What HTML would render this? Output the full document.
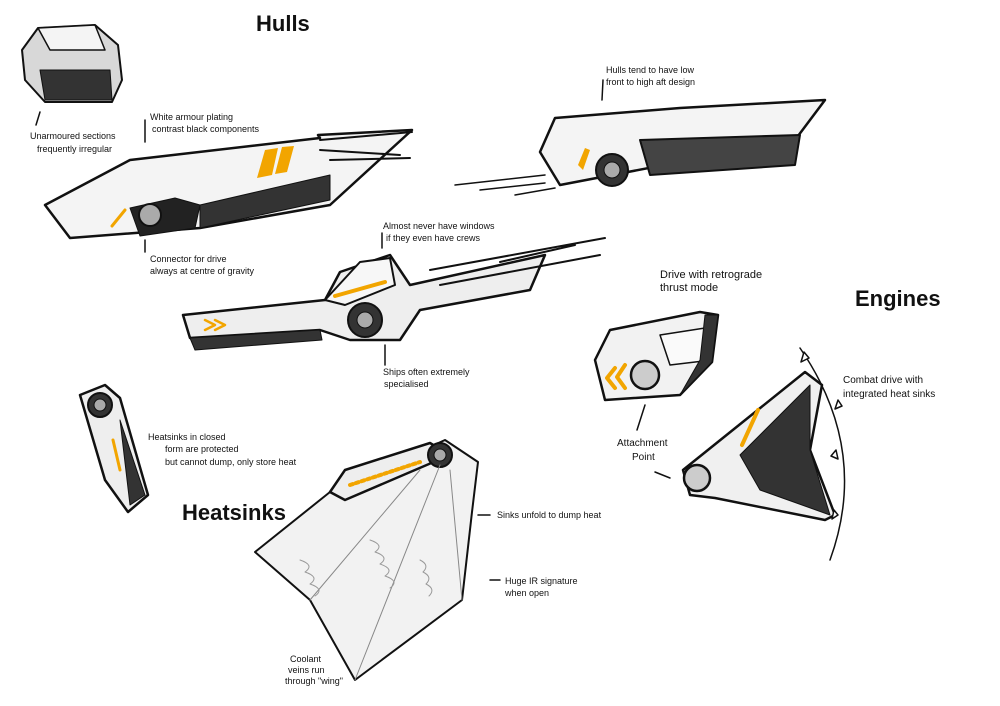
<!DOCTYPE html>
<html><head><meta charset="utf-8"><style>
html,body{margin:0;padding:0;background:#fff;width:1000px;height:706px;overflow:hidden}
svg{display:block}
text{font-family:"Liberation Sans",sans-serif;fill:#111}
.s{font-size:9px}
.h{font-size:22px;font-weight:bold}
</style></head><body>
<svg width="1000" height="706" viewBox="0 0 1000 706" xmlns="http://www.w3.org/2000/svg">
<g stroke="#111" stroke-linecap="round" stroke-linejoin="round">
<!-- top-left icon -->
<path d="M38,28 L95,25 L118,45 L122,80 L112,102 L45,102 L25,80 L22,50Z" fill="#d8d8d8" stroke-width="2"/>
<path d="M38,28 L50,50 L105,50 L95,25Z" fill="#f4f4f4" stroke-width="1.5"/>
<path d="M40,70 L110,70 L112,100 L45,100Z" fill="#333"/>
<line x1="40" y1="112" x2="36" y2="125" stroke-width="1.5"/>
<!-- Hull 1 -->
<path d="M45,205 L130,160 L320,138 L318,135 L412,130 L330,205 L200,228 L70,238Z" fill="#f4f4f4" stroke-width="2.5"/>
<path d="M130,208 L175,198 L200,205 L195,228 L140,236Z" fill="#222"/>
<circle cx="150" cy="215" r="11" fill="#aaa" stroke-width="2"/>
<path d="M200,205 L330,175 L330,200 L200,228Z" fill="#333"/>
<path d="M265,150 L278,148 L272,175 L257,178Z M282,147 L294,146 L287,172 L275,174Z" fill="#f2a500" stroke="none"/>
<path d="M112,226 L125,210" stroke="#f2a500" stroke-width="3"/>
<path d="M320,140 L412,132 M320,150 L400,155 M330,160 L410,158" stroke-width="2" fill="none"/>
<line x1="145" y1="240" x2="145" y2="252" stroke-width="1.5"/>
<line x1="145" y1="120" x2="145" y2="142" stroke-width="1.5"/>
<!-- Hull 2 -->
<path d="M540,152 L555,118 L680,108 L825,100 L795,140 L560,185Z" fill="#f4f4f4" stroke-width="2.5"/>
<path d="M640,140 L800,135 L795,165 L650,175Z" fill="#444" stroke-width="2"/>
<circle cx="612" cy="170" r="16" fill="#333" stroke-width="2"/>
<circle cx="612" cy="170" r="8" fill="#aaa"/>
<path d="M578,165 L585,148 L590,150 L583,170Z" fill="#f2a500" stroke="none"/>
<path d="M455,185 L545,175 M480,190 L545,183 M515,195 L555,188" stroke-width="1.5"/>
<line x1="603" y1="80" x2="602" y2="100" stroke-width="1.5"/>
<!-- Hull 3 -->
<path d="M183,315 L325,300 L340,272 L390,255 L410,285 L545,255 L530,290 L420,310 L400,340 L350,340 L320,330 L190,338Z" fill="#eee" stroke-width="2.5"/>
<path d="M325,300 L360,262 L390,258 L395,285 L345,305Z" fill="#f7f7f7" stroke-width="2"/>
<path d="M335,296 L385,282" stroke="#f2a500" stroke-width="4"/>
<circle cx="365" cy="320" r="17" fill="#333" stroke-width="2"/>
<circle cx="365" cy="320" r="8" fill="#aaa"/>
<path d="M190,338 L320,330 L322,340 L195,350Z" fill="#333"/>
<path d="M205,320 L215,325 L205,330 M215,320 L225,325 L215,330" stroke="#f2a500" stroke-width="2.5" fill="none"/>
<path d="M430,270 L605,238 M440,285 L600,255 M500,262 L575,245" stroke-width="2" fill="none"/>
<line x1="382" y1="233" x2="382" y2="248" stroke-width="1.5"/>
<line x1="385" y1="345" x2="385" y2="365" stroke-width="1.5"/>
<!-- closed heatsink -->
<path d="M80,395 L105,385 L120,398 L148,495 L128,512 L105,480 Z" fill="#eee" stroke-width="2.5"/>
<circle cx="100" cy="405" r="12" fill="#333" stroke-width="2"/>
<circle cx="100" cy="405" r="6" fill="#aaa"/>
<path d="M120,420 L145,495 L130,505Z" fill="#333"/>
<path d="M113,440 L120,470" stroke="#f2a500" stroke-width="3"/>
<!-- open heatsink -->
<path d="M255,552 L330,492 L445,440 L478,462 L472,512 L462,600 L355,680 L310,600Z" fill="#f2f2f2" stroke-width="2"/>
<path d="M330,492 L345,470 L430,443 L450,455 L345,500Z" fill="#eee" stroke-width="2.5"/>
<path d="M350,485 L420,462" stroke="#f2a500" stroke-width="4" stroke-dasharray="3 3"/>
<circle cx="440" cy="455" r="12" fill="#333" stroke-width="2"/>
<circle cx="440" cy="455" r="6" fill="#aaa"/>
<path d="M355,680 L440,465 M310,600 L420,470 M462,600 L450,470" stroke="#888" stroke-width="1" fill="none"/>
<path d="M300,560 q15,5 5,12 q15,5 5,12 q15,5 5,12 M370,540 q15,5 5,12 q15,5 5,12 q15,5 5,12 q15,5 5,12 M420,560 q10,5 3,12 q10,5 3,12 q10,5 3,12" stroke="#999" stroke-width="1" fill="none"/>
<line x1="478" y1="515" x2="490" y2="515" stroke-width="1.5"/>
<line x1="490" y1="580" x2="500" y2="580" stroke-width="1.5"/>
<!-- drive -->
<path d="M595,360 L610,330 L700,312 L718,315 L712,362 L680,395 L605,400Z" fill="#f2f2f2" stroke-width="2.5"/>
<path d="M660,335 L705,328 L712,360 L670,365Z" fill="#fafafa" stroke-width="1.5"/>
<circle cx="645" cy="375" r="14" fill="#ccc" stroke-width="2.5"/>
<path d="M615,368 L607,378 L615,388 M625,365 L617,377 L625,388" stroke="#f2a500" stroke-width="4" fill="none"/>
<path d="M680,395 L712,362 L718,315 L705,315 L700,360Z" fill="#333"/>
<line x1="645" y1="405" x2="637" y2="430" stroke-width="1.5"/>
<line x1="655" y1="472" x2="670" y2="478" stroke-width="1.5"/>
<!-- combat drive -->
<path d="M683,470 L805,372 L822,385 L810,450 L835,515 L825,520 L715,498 L690,495Z" fill="#f0f0f0" stroke-width="2.5"/>
<path d="M740,455 L810,385 L810,450 L830,515 L760,490Z" fill="#333"/>
<circle cx="697" cy="478" r="13" fill="#ccc" stroke-width="2.5"/>
<path d="M742,445 L758,410" stroke="#f2a500" stroke-width="4"/>
<path d="M800,348 Q870,450 830,560" fill="none" stroke-width="1.5"/>
<path d="M804,352 l-3,10 l8,-4Z M838,400 l-3,9 l7,-3Z M836,450 l2,9 l-7,-3Z M834,510 l-2,9 l6,-4Z" fill="#fff" stroke-width="1.5"/>
</g>
<text class="h" x="256" y="31">Hulls</text>
<text class="h" x="855" y="306">Engines</text>
<text class="h" x="182" y="520">Heatsinks</text>
<text class="s" x="30" y="139">Unarmoured sections</text>
<text class="s" x="37" y="152">frequently irregular</text>
<text class="s" x="150" y="120">White armour plating</text>
<text class="s" x="152" y="132">contrast black components</text>
<text class="s" x="150" y="262">Connector for drive</text>
<text class="s" x="150" y="274">always at centre of gravity</text>
<text class="s" x="606" y="73">Hulls tend to have low</text>
<text class="s" x="606" y="85">front to high aft design</text>
<text class="s" x="383" y="229">Almost never have windows</text>
<text class="s" x="386" y="241">if they even have crews</text>
<text class="s" x="383" y="375">Ships often extremely</text>
<text class="s" x="384" y="387">specialised</text>
<text class="s" x="660" y="278" style="font-size:11px">Drive with retrograde</text>
<text class="s" x="660" y="291" style="font-size:11px">thrust mode</text>
<text class="s" x="843" y="383" style="font-size:10px">Combat drive with</text>
<text class="s" x="843" y="397" style="font-size:10px">integrated heat sinks</text>
<text class="s" x="617" y="446" style="font-size:10px">Attachment</text>
<text class="s" x="632" y="460" style="font-size:10px">Point</text>
<text class="s" x="148" y="440">Heatsinks in closed</text>
<text class="s" x="165" y="452">form are protected</text>
<text class="s" x="165" y="465">but cannot dump, only store heat</text>
<text class="s" x="497" y="518">Sinks unfold to dump heat</text>
<text class="s" x="505" y="584">Huge IR signature</text>
<text class="s" x="505" y="596">when open</text>
<text class="s" x="290" y="662">Coolant</text>
<text class="s" x="288" y="673">veins run</text>
<text class="s" x="285" y="684">through "wing"</text>
</svg>
</body></html>
